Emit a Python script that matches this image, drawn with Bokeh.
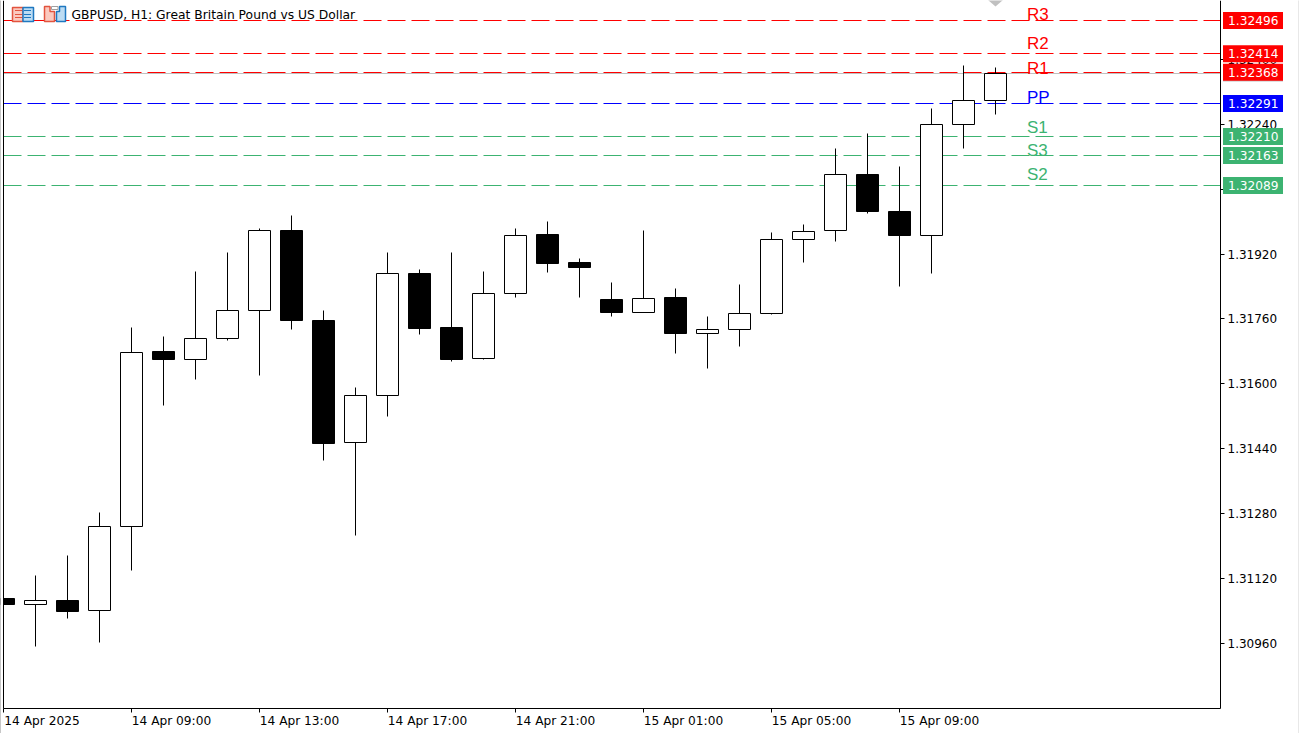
import math
from bokeh.plotting import figure
from bokeh.embed import file_html
from bokeh.resources import INLINE
from bokeh.models import FixedTicker, PrintfTickFormatter
from bokeh.core.properties import value

# ---- chart data (prices) ----
opens  = [1.31072,1.31057,1.31067,1.31042,1.31249,1.31679,1.31661,1.31712,1.31781,1.31979,1.31757,1.31455,1.31572,1.31873,1.31738,1.31662,1.31823,1.31967,1.31898,1.31809,1.31775,1.31812,1.31724,1.31734,1.31773,1.31955,1.31978,1.32117,1.32026,1.31966,1.32239,1.32298]
highs  = [1.31080,1.31128,1.31178,1.31284,1.31740,1.31716,1.31878,1.31923,1.31984,1.32014,1.31782,1.31590,1.31925,1.31883,1.31925,1.31878,1.31982,1.31999,1.31910,1.31851,1.31979,1.31836,1.31767,1.31846,1.31972,1.31994,1.32179,1.32216,1.32137,1.32278,1.32386,1.32379]
lows   = [1.31048,1.30952,1.31021,1.30962,1.31139,1.31546,1.31610,1.31706,1.31620,1.31734,1.31411,1.31226,1.31519,1.31721,1.31656,1.31660,1.31812,1.31874,1.31814,1.31765,1.31775,1.31674,1.31637,1.31691,1.31770,1.31900,1.31950,1.32019,1.31839,1.31873,1.32181,1.32263]
closes = [1.31055,1.31066,1.31040,1.31249,1.31678,1.31659,1.31712,1.31781,1.31979,1.31755,1.31454,1.31572,1.31873,1.31736,1.31661,1.31823,1.31966,1.31896,1.31886,1.31775,1.31811,1.31723,1.31735,1.31774,1.31956,1.31976,1.32117,1.32024,1.31965,1.32240,1.32299,1.32366]

level_names  = ["R3", "R2", "R1", "PP", "S1", "S3", "S2"]
level_prices = [1.32496, 1.32414, 1.32368, 1.32291, 1.32210, 1.32163, 1.32089]
level_colors = ["#ff0000", "#ff0000", "#ff0000", "#0000ff", "#3cb371", "#3cb371", "#3cb371"]
name_prices  = [1.32510, 1.32440, 1.32377, 1.32306, 1.32231, 1.32175, 1.32115]
last_price   = 1.32366

y_tick_prices = [1.30960, 1.31120, 1.31280, 1.31440, 1.31600, 1.31760, 1.31920, 1.32080, 1.32240, 1.32400]
x_tick_index  = [0, 4, 8, 12, 16, 20, 24, 28]
x_tick_labels = ["14 Apr 2025", "14 Apr 09:00", "14 Apr 13:00", "14 Apr 17:00",
                 "14 Apr 21:00", "15 Apr 01:00", "15 Apr 05:00", "15 Apr 09:00"]
title_text = "GBPUSD, H1:  Great Britain Pound vs US Dollar"

# ---- pixel <-> data helpers for decorations and pixel snapping ----
K = 0.00002465
def Y(py): return 1.30960 + (643.5 - py) * K
def X(px): return (px - 3.5) / 32.0
def snap(price):
    return Y(math.floor(643.5 - (price - 1.30960) / K) + 0.5)

FONT = "DejaVu Sans"
TOP, BOTTOM, RIGHT = 0.5, 708.5, 1220.5

p = figure(width=1299, height=733, output_backend="svg", toolbar_location=None,
           x_range=(X(0.5), X(1299.5)), y_range=(Y(733.5), Y(0.5)), y_axis_location="right",
           min_border_left=0, min_border_right=0, min_border_top=0, min_border_bottom=0,
           outline_line_color=None, background_fill_color="white", border_fill_color="white")
p.grid.visible = False

# axes: date labels start just right of their tick, so the labels sit on offset positions
label_pos = [t + (1.203125 if i == 0 else 1.25) for i, t in enumerate(x_tick_index)]
xa, ya = p.xaxis[0], p.yaxis[0]
xa.fixed_location = Y(BOTTOM)
xa.bounds = (X(3.5), X(RIGHT))
xa.ticker = FixedTicker(ticks=label_pos, minor_ticks=x_tick_index)
xa.major_label_overrides = dict(zip(label_pos, x_tick_labels))
xa.major_label_standoff = 1
xa.major_tick_line_color = None
xa.major_tick_in = 0
xa.major_tick_out = 4
xa.minor_tick_line_color = "black"
xa.minor_tick_in = 0
xa.minor_tick_out = 4
ya.fixed_location = X(RIGHT)
ya.bounds = (Y(BOTTOM), Y(TOP))
ya.ticker = FixedTicker(ticks=y_tick_prices)
ya.formatter = PrintfTickFormatter(format="%.5f")
ya.major_label_standoff = 3
ya.major_tick_line_color = "black"
ya.major_tick_in = 0
ya.major_tick_out = 4
ya.minor_tick_line_color = None
for ax in (xa, ya):
    ax.axis_line_color = "black"
    ax.axis_line_width = 1
    ax.major_label_text_font = FONT
    ax.major_label_text_font_size = "12px"
    ax.major_label_text_color = "black"
xa.major_label_text_font_size = "12.2px"

# last price line
p.segment(x0=[X(3.5)], y0=[snap(last_price)], x1=[X(RIGHT)], y1=[snap(last_price)],
          line_color="#c0c0c0", line_width=1)

# pivot levels
for price, col in zip(level_prices, level_colors):
    p.segment(x0=[X(3.5)], y0=[snap(price)], x1=[X(RIGHT)], y1=[snap(price)],
              line_color=col, line_width=1, line_dash="18 6")

# candles
idx = list(range(len(opens)))
fills = ["white" if c >= o else "black" for o, c in zip(opens, closes)]
p.segment(x0=idx, y0=[snap(v) for v in highs], x1=idx, y1=[snap(v) for v in lows],
          line_color="black", line_width=1)
p.vbar(x=idx, width=22 / 32, top=[snap(max(a, b)) for a, b in zip(opens, closes)],
       bottom=[snap(min(a, b)) for a, b in zip(opens, closes)],
       fill_color=fills, line_color="black", line_width=1)

# plot area ends at its left edge: mask the part of the first candle beyond it
p.quad(left=[X(0)], right=[X(3)], top=[Y(0)], bottom=[Y(733)], fill_color="white", line_color=None)

# window edges
p.quad(left=[X(0)], right=[X(1)], top=[Y(0)], bottom=[Y(733)], fill_color="#909090", line_color=None)
p.quad(left=[X(1298)], right=[X(1299)], top=[Y(0)], bottom=[Y(733)], fill_color="#e8e8e8", line_color=None)

# left frame edge
p.segment(x0=[X(3.5)], y0=[Y(TOP)], x1=[X(3.5)], y1=[Y(BOTTOM)], line_color="black", line_width=1)

# chart shift marker
p.patch(x=[X(988), X(1003), X(995.5)], y=[Y(0), Y(0), Y(6.5)], fill_color="#c0c0c0", line_color=None)

# level names
p.text(x=[X(1027)] * len(level_names), y=name_prices, text=level_names, text_color=level_colors,
       text_font=value("Liberation Sans"), text_font_size="17px",
       text_align="left", text_baseline="middle")

# price tags on the axis
HALF = 8.5 * K
p.quad(left=[X(1223)], right=[X(1283)], top=[last_price + HALF], bottom=[last_price - HALF],
       fill_color="#c0c0c0", line_color=None, level="overlay")
p.quad(left=[X(1223)] * 7, right=[X(1283)] * 7, top=[v + HALF for v in level_prices],
       bottom=[v - HALF for v in level_prices], fill_color=level_colors, line_color=None, level="overlay")
p.text(x=[X(1228)] * 7, y=level_prices, text=[f"{v:.5f}" for v in level_prices], text_color="white",
       text_font=value(FONT), text_font_size="12.2px", text_align="left", text_baseline="middle",
       level="overlay")

# header icons
def box(l, t, r, b, fill, line):
    p.quad(left=[X(l)], right=[X(r)], top=[Y(t)], bottom=[Y(b)],
           fill_color=fill, line_color=line, line_width=1.5)
box(12.5, 7.5, 23, 21.5, "#fbc9bf", "#e2543f")
box(23, 7.5, 33.5, 21.5, "#bcdcf3", "#1f78c0")
for t in (10.5, 14.5, 17.5):
    p.segment(x0=[X(15)], y0=[Y(t)], x1=[X(22)], y1=[Y(t)], line_color="#e2543f", line_width=1)
    p.segment(x0=[X(24)], y0=[Y(t)], x1=[X(31)], y1=[Y(t)], line_color="#1f78c0", line_width=1)
p.patch(x=[X(44.5), X(50), X(50), X(54.5), X(54.5), X(44.5)],
        y=[Y(6.5), Y(6.5), Y(11.5), Y(11.5), Y(21.5), Y(21.5)],
        fill_color="#fbc9bf", line_color="#e2543f", line_width=1.5)
p.patch(x=[X(56.5), X(59.5), X(59.5), X(65.5), X(65.5), X(56.5)],
        y=[Y(11.5), Y(11.5), Y(6.5), Y(6.5), Y(21.5), Y(21.5)],
        fill_color="#bcdcf3", line_color="#1f78c0", line_width=1.5)
p.quad(left=[X(51.5)], right=[X(58)], top=[Y(6.5)], bottom=[Y(9.5)], fill_color="white", line_color="#a0a0a0")

# header text
p.text(x=[X(71.5)], y=[Y(15)], text=[title_text], text_color="black",
       text_font=value(FONT), text_font_size="12.3px", text_align="left", text_baseline="middle")

open("out.html", "w").write(file_html(p, INLINE))
